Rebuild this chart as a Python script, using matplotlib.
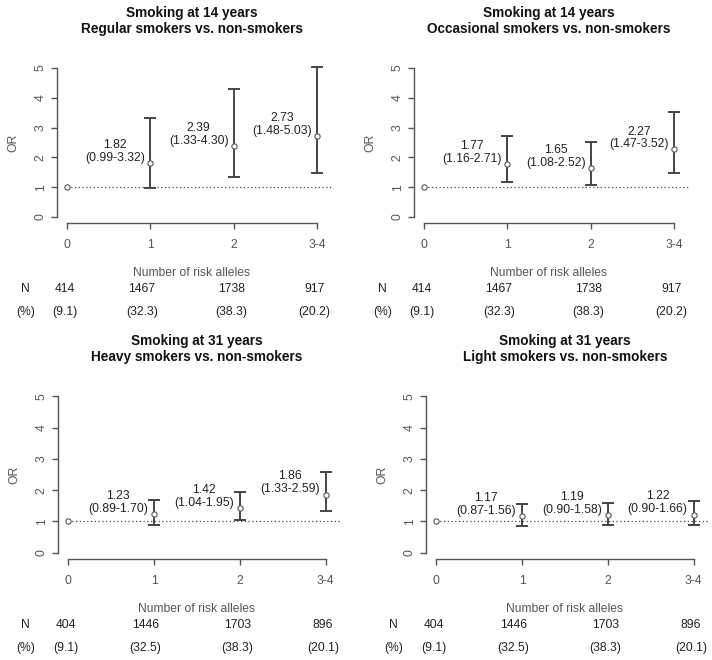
import matplotlib

matplotlib.use("Agg")
import matplotlib.pyplot as plt

plt.rcParams["font.family"] = ["Liberation Sans", "DejaVu Sans"]

ALLELES = ["0", "1", "2", "3-4"]

TITLES = [
    "Smoking at 14 years\nRegular smokers vs. non-smokers",
    "Smoking at 14 years\nOccasional smokers vs. non-smokers",
    "Smoking at 31 years\nHeavy smokers vs. non-smokers",
    "Smoking at 31 years\nLight smokers vs. non-smokers",
]

# odds ratios, reference group (0 alleles) = 1
or_regular14 = [1.0, 1.82, 2.39, 2.73]
lo_regular14 = [1.0, 0.99, 1.33, 1.48]
hi_regular14 = [1.0, 3.32, 4.30, 5.03]

or_occasional14 = [1.0, 1.77, 1.65, 2.27]
lo_occasional14 = [1.0, 1.16, 1.08, 1.47]
hi_occasional14 = [1.0, 2.71, 2.52, 3.52]

or_heavy31 = [1.0, 1.23, 1.42, 1.86]
lo_heavy31 = [1.0, 0.89, 1.04, 1.33]
hi_heavy31 = [1.0, 1.70, 1.95, 2.59]

or_light31 = [1.0, 1.17, 1.19, 1.22]
lo_light31 = [1.0, 0.87, 0.90, 0.90]
hi_light31 = [1.0, 1.56, 1.58, 1.66]

n_14 = [414, 1467, 1738, 917]
pct_14 = [9.1, 32.3, 38.3, 20.2]
n_31 = [404, 1446, 1703, 896]
pct_31 = [9.1, 32.5, 38.3, 20.1]

PANELS = [
    (TITLES[0], or_regular14, lo_regular14, hi_regular14, n_14, pct_14),
    (TITLES[1], or_occasional14, lo_occasional14, hi_occasional14, n_14, pct_14),
    (TITLES[2], or_heavy31, lo_heavy31, hi_heavy31, n_31, pct_31),
    (TITLES[3], or_light31, lo_light31, hi_light31, n_31, pct_31),
]

# axes rectangles in pixels (left, top, right, bottom) of a 712x660 canvas
RECTS = [
    (57, 62, 327, 223),
    (414, 62, 684, 223),
    (58, 390, 336, 559),
    (426, 390, 704, 559),
]

W, H = 712, 660
AXIS_COL = "#555555"
TEXT_COL = "#222222"
BAR_COL = "#444444"
PX = 0.72  # points per pixel at dpi 100


def draw_panel(fig, rect, title, ors, los, his, ns, pcts):
    l, t, r, b = rect
    ax = fig.add_axes([l / W, 1 - b / H, (r - l) / W, (b - t) / H])
    xs = list(range(1, len(ALLELES) + 1))

    ax.plot([1, 4.18], [1, 1], ls=(0, (1, 2)), color="#444444", lw=0.9, clip_on=False, zorder=1)
    for x, o, lo, hi in zip(xs[1:], ors[1:], los[1:], his[1:]):
        ax.errorbar(x, o, yerr=[[o - lo], [hi - o]], fmt="none", ecolor=BAR_COL,
                    elinewidth=1.4, capsize=4, capthick=1.4, zorder=2)
        ax.text(x - 0.42, o + 0.38, f"{o:.2f}\n({lo:.2f}-{hi:.2f})", ha="center", va="center",
                fontsize=8.7, color=TEXT_COL, linespacing=1.1)
    ax.plot(xs, ors, "o", ms=3.8, mfc="white", mec="#555555", mew=0.8, ls="none", zorder=3)

    ax.set_xlim(0.88, 4.12)
    ax.set_ylim(-0.2, 5.2)
    ax.set_xticks(xs)
    ax.set_xticklabels(ALLELES)
    ax.set_yticks(range(6))
    ax.set_yticklabels([str(v) for v in range(6)], rotation=90, va="center")
    for s in ("top", "right"):
        ax.spines[s].set_visible(False)
    ax.spines["bottom"].set_bounds(1, 4)
    ax.spines["left"].set_bounds(0, 5)
    for s in ("bottom", "left"):
        ax.spines[s].set_color(AXIS_COL)
        ax.spines[s].set_linewidth(1.0)
    ax.tick_params(colors=AXIS_COL, labelcolor=AXIS_COL, labelsize=8.7, length=4.3, width=1.0)
    ax.tick_params(axis="x", pad=7)
    ax.tick_params(axis="y", pad=3)
    ax.set_ylabel("OR", fontsize=8.7, color=AXIS_COL, labelpad=11)
    ax.patch.set_visible(False)

    ax.set_title(title, fontsize=9.8, fontweight="bold", color="#111111", pad=21, linespacing=1.15)

    # x label and the N / (%) rows under the axis
    ax.annotate("Number of risk alleles", xy=(0.5, 0), xycoords="axes fraction",
                xytext=(0, -50 * PX), textcoords="offset points", ha="center", va="center",
                fontsize=8.7, color=AXIS_COL)
    row_x = [0.97, 1.9, 2.97, 3.97]
    for lab, vals, dy in (("N", [str(n) for n in ns], -66),
                          ("(%)", [f"({p:.1f})" for p in pcts], -89)):
        ax.annotate(lab, xy=(0.5, 0), xycoords=("data", "axes fraction"),
                    xytext=(0, dy * PX), textcoords="offset points", ha="center", va="center",
                    fontsize=8.7, color=TEXT_COL)
        for x, v in zip(row_x, vals):
            ax.annotate(v, xy=(x, 0), xycoords=("data", "axes fraction"),
                        xytext=(0, dy * PX), textcoords="offset points", ha="center",
                        va="center", fontsize=8.7, color=TEXT_COL)
    return ax


def main():
    fig = plt.figure(figsize=(W / 100, H / 100), dpi=100)
    for rect, panel in zip(RECTS, PANELS):
        draw_panel(fig, rect, *panel)
    fig.savefig("out.png", dpi=100, facecolor="white")
    plt.close(fig)


if __name__ == "__main__":
    main()
